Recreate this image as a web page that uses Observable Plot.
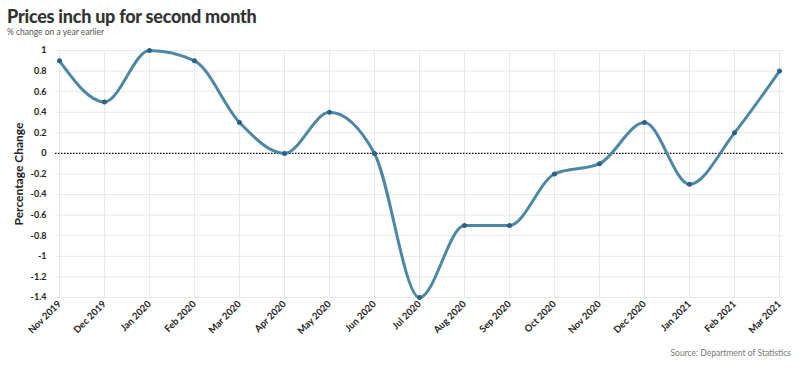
<!DOCTYPE html>
<html><head><meta charset="utf-8">
<script src="https://cdn.jsdelivr.net/npm/d3@7"></script>
<script src="https://cdn.jsdelivr.net/npm/@observablehq/plot@0.6"></script>
<style>
body{margin:0;background:#fff;font-family:Lato,"Noto Sans",sans-serif;width:799px;height:379px;overflow:hidden}
#title{position:absolute;left:7px;top:5px;font-size:18px;font-weight:900;letter-spacing:-0.25px;color:#333}
#sub{position:absolute;left:7px;top:27px;font-size:8.5px;color:#555}
#chart{position:absolute;left:0;top:42px}
#cap{position:absolute;right:8px;top:348px;font-size:8.5px;color:#777}
</style></head><body>
<div id="title">Prices inch up for second month</div>
<div id="sub">% change on a year earlier</div>
<div id="chart"></div>
<div id="cap">Source: Department of Statistics</div>
<script>
const months = ["Nov 2019","Dec 2019","Jan 2020","Feb 2020","Mar 2020","Apr 2020","May 2020","Jun 2020","Jul 2020","Aug 2020","Sep 2020","Oct 2020","Nov 2020","Dec 2020","Jan 2021","Feb 2021","Mar 2021"];
const values = [0.9,0.5,1.0,0.9,0.3,0,0.4,0,-1.4,-0.7,-0.7,-0.2,-0.1,0.3,-0.3,0.2,0.8];
const yTicks = [1,0.8,0.6,0.4,0.2,0,-0.2,-0.4,-0.6,-0.8,-1,-1.2,-1.4];
const data = months.map((m,i)=>({month:m,value:values[i]}));
const fmt = d=>String(Math.round(d*10)/10);
const chart = Plot.plot({
  width:799, height:300,
  marginTop:8, marginBottom:45, marginLeft:55, marginRight:16,
  style:{fontFamily:"Lato, sans-serif", fontSize:"9px", color:"#222"},
  x:{type:"point", domain:months, padding:0, label:null},
  y:{domain:[-1.4,1], label:null},
  marks:[
    Plot.gridX(months,{x:d=>d, stroke:"#e8e8e8", strokeOpacity:1}),
    Plot.gridY(yTicks,{y:d=>d, stroke:"#e8e8e8", strokeOpacity:1}),
    Plot.ruleY([0],{stroke:"#111", strokeDasharray:"1.5,1.5", strokeWidth:1.3}),
    Plot.axisX({tickRotate:-45, tickSize:0, tickPadding:5, fontWeight:"bold", fontSize:9.5, label:null}),
    Plot.axisY({ticks:yTicks, tickSize:0, tickPadding:9, fontWeight:"bold", label:null, tickFormat:fmt}),
    Plot.line(data,{x:"month", y:"value", curve:"monotone-x", stroke:"#4d87a6", strokeWidth:3}),
    Plot.dot(data,{x:"month", y:"value", r:2.5, fill:"#2b6188", stroke:"none"})
  ]
});
document.getElementById("chart").appendChild(chart);
d3.select(chart).append("text").attr("transform","translate(23,132) rotate(-90)")
  .attr("text-anchor","middle").attr("font-size","12px").attr("font-weight","bold").attr("fill","#222")
  .text("Percentage Change");
</script>
</body></html>
